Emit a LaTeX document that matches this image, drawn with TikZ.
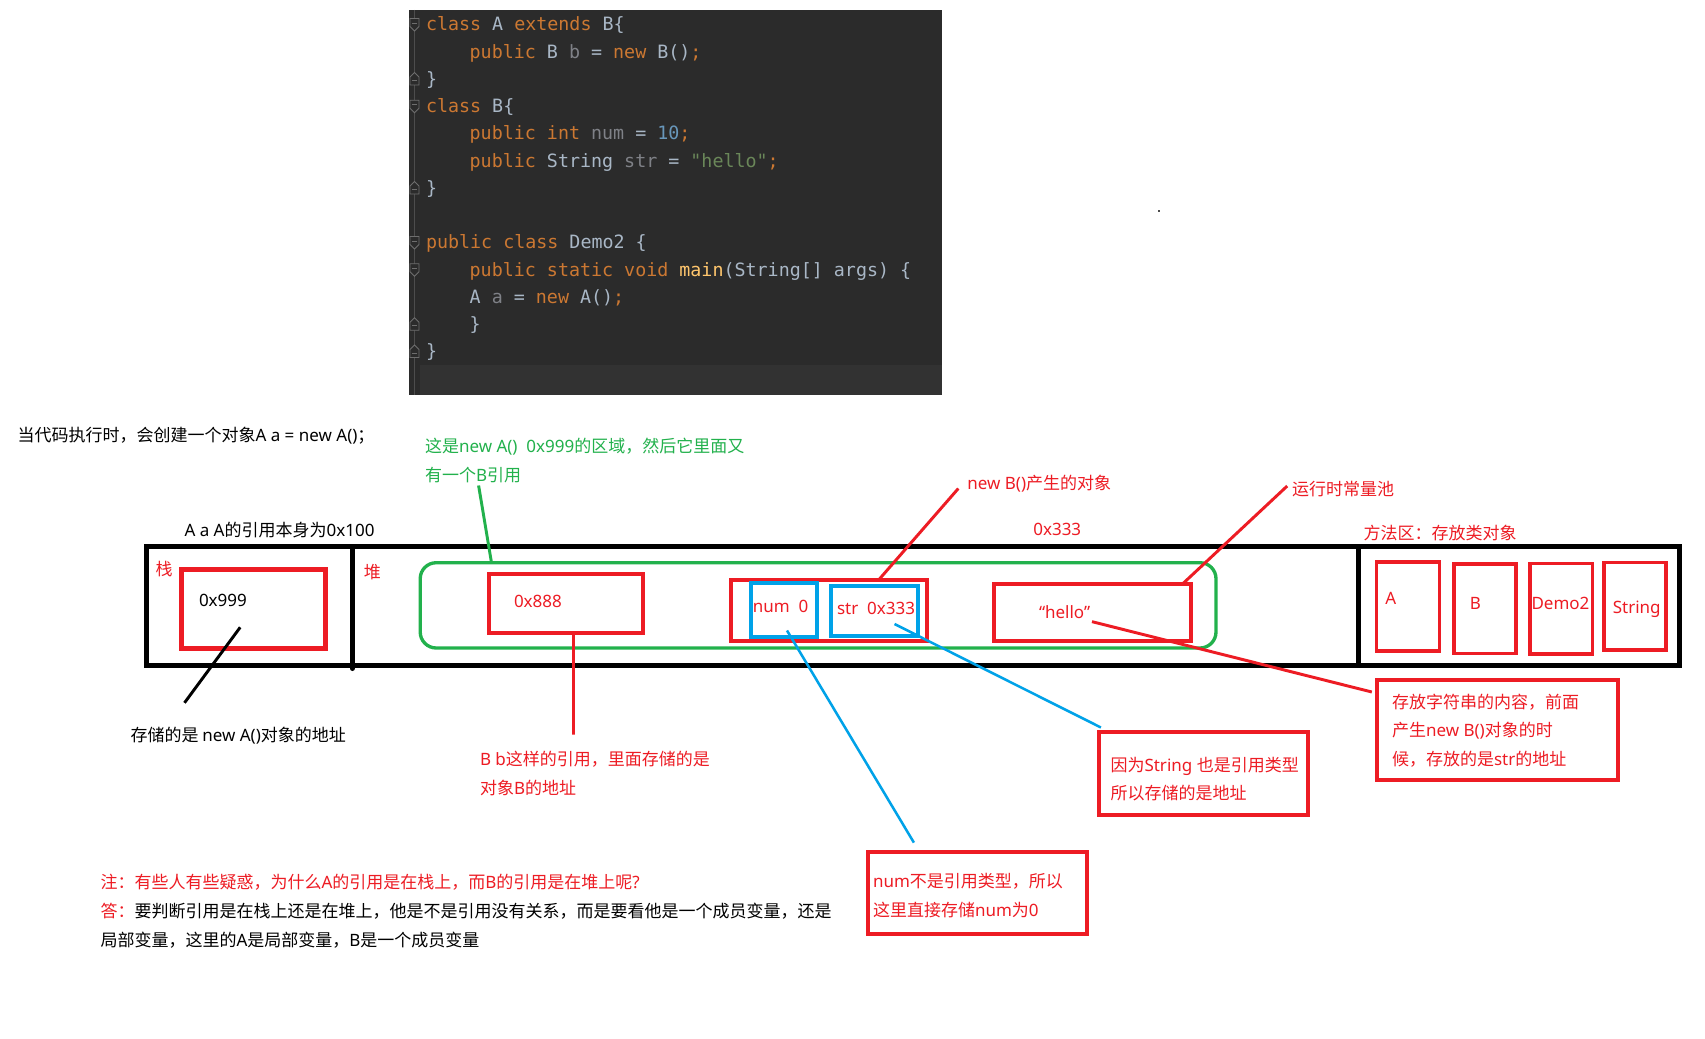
\documentclass[tikz,border=0pt]{standalone}
\usepackage{fontspec}
\setmainfont{Noto Sans CJK SC}
\newfontfamily\codefont{DejaVu Sans Mono}
\newfontfamily\latinfont{Noto Sans}
\usetikzlibrary{calc,fit}
\definecolor{pred}{HTML}{ED1C24}
\definecolor{pgreen}{HTML}{22B14C}
\definecolor{pblue}{HTML}{00A2E8}
\definecolor{codebg}{HTML}{2B2B2B}
\definecolor{codehl}{HTML}{323232}
\definecolor{ckw}{HTML}{CC7832}
\definecolor{cid}{HTML}{A9B7C6}
\definecolor{cfld}{HTML}{7F8187}
\definecolor{cnum}{HTML}{6897BB}
\definecolor{cstr}{HTML}{6A8759}
\definecolor{cfn}{HTML}{FFC66D}
\definecolor{cgut}{HTML}{4D4D4D}
\definecolor{cfold}{HTML}{6E6E6E}
\newcommand\jkw[1]{\textcolor{ckw}{#1}}
\newcommand\jid[1]{\textcolor{cid}{#1}}
\newcommand\jfd[1]{\textcolor{cfld}{#1}}
\newcommand\jnm[1]{\textcolor{cnum}{#1}}
\newcommand\jst[1]{\textcolor{cstr}{#1}}
\newcommand\jfn[1]{\textcolor{cfn}{#1}}
\newcommand\ltn[1]{{\latinfont #1}}
\begin{document}
\begin{tikzpicture}[x=0.75pt,y=-0.75pt,
  boxred/.style={draw=pred, line width=3pt, inner sep=0pt, outer sep=0pt},
  boxredthick/.style={draw=pred, line width=3.9pt, inner sep=0pt, outer sep=0pt},
  boxmeth/.style={draw=pred, line width=2.5pt, inner sep=0pt, outer sep=0pt},
  boxblue/.style={draw=pblue, line width=2.7pt, inner sep=0pt, outer sep=0pt},
  boxgreen/.style={draw=pgreen, line width=2.5pt, rounded corners=12pt, inner sep=0pt, outer sep=0pt},
  boxframe/.style={draw=black, line width=3.75pt, inner sep=0pt, outer sep=0pt},
  lnred/.style={draw=pred, line width=2.2pt},
  lnblue/.style={draw=pblue, line width=1.9pt},
  lngreen/.style={draw=pgreen, line width=2.2pt},
  lnblack/.style={draw=black, line width=2.2pt},
  lbl/.style={anchor=base west, inner sep=0pt, outer sep=0pt, font=\fontsize{12.75}{15}\selectfont},
  lblc/.style={anchor=base, inner sep=0pt, outer sep=0pt, font=\latinfont\fontsize{12.75}{15}\selectfont},
  codeln/.style={anchor=base west, inner sep=0pt, outer sep=0pt, text=cid, font=\codefont\fontsize{13.75}{16}\selectfont},
  fopen/.pic={\filldraw[draw=cfold, fill=codebg, line width=0.6pt] (-4.5,-6) -- (4.5,-6) -- (4.5,2) -- (0,6.5) -- (-4.5,2) -- cycle;
              \draw[cfold, line width=0.6pt] (-2.5,-1.5) -- (2.5,-1.5);},
  fclose/.pic={\filldraw[draw=cfold, fill=codebg, line width=0.6pt] (-4.5,6) -- (4.5,6) -- (4.5,-2) -- (0,-6.5) -- (-4.5,-2) -- cycle;
              \draw[cfold, line width=0.6pt] (-2.5,1.5) -- (2.5,1.5);}
]
\useasboundingbox (0,0) rectangle (1705,1038);
\fill[white] (0,0) rectangle (1705,1038);

% ---------- code panel ----------
\node[fill=codebg, inner sep=0pt, outer sep=0pt, fit={(409,10) (942,395)}] (codepanel) {};
\fill[codehl] (420,365) rectangle (942,395);
\draw[cgut, line width=0.75pt] (414.5,10) -- (414.5,395);
\pic at (414.5,24.5) {fopen};
\pic at (414.5,79) {fclose};
\pic at (414.5,106.25) {fopen};
\pic at (414.5,188) {fclose};
\pic at (414.5,242.5) {fopen};
\pic at (414.5,269.75) {fopen};
\pic at (414.5,324.25) {fclose};
\pic at (414.5,351.5) {fclose};

\node[codeln] (c0) at (426,30.9) {\jkw{class} \jid{A} \jkw{extends} \jid{B\{}};
\node[codeln] (c1) at (469.7,58.15) {\jkw{public} \jid{B} \jfd{b} \jid{=} \jkw{new} \jid{B()}\jkw{;}};
\node[codeln] (c2) at (426,85.4) {\jid{\}}};
\node[codeln] (c3) at (426,112.65) {\jkw{class} \jid{B\{}};
\node[codeln] (c4) at (469.7,139.9) {\jkw{public} \jkw{int} \jfd{num} \jid{=} \jnm{10}\jkw{;}};
\node[codeln] (c5) at (469.7,167.15) {\jkw{public} \jid{String} \jfd{str} \jid{=} \jst{"hello"}\jkw{;}};
\node[codeln] (c6) at (426,194.4) {\jid{\}}};
\node[codeln] (c8) at (426,248.9) {\jkw{public} \jkw{class} \jid{Demo2} \jid{\{}};
\node[codeln] (c9) at (469.7,276.15) {\jkw{public} \jkw{static} \jkw{void} \jfn{main}\jid{(String[]} \jid{args)} \jid{\{}};
\node[codeln] (c10) at (469.7,303.4) {\jid{A} \jfd{a} \jid{=} \jkw{new} \jid{A()}\jkw{;}};
\node[codeln] (c11) at (469.7,330.65) {\jid{\}}};
\node[codeln] (c12) at (426,357.9) {\jid{\}}};

% stray dot
\fill[black!70] (1158,210) rectangle (1160,212);

% ---------- memory frame ----------
\node[boxframe, fit={(146,546.5) (1679.5,665.3)}] (frame) {};
\draw[black, line width=3.75pt, line cap=round] ($(frame.north west)+(206.2,0)$) -- ($(frame.south west)+(206.2,3.2)$);
\draw[black, line width=3.75pt] ($(frame.north west)+(1212,0)$) -- ($(frame.south west)+(1212,0)$);

% boxes
\node[boxredthick, fit={(181.7,569.5) (325.5,648.2)}] (stackbox) {};
\node[boxgreen, fit={(420.2,562.7) (1216,648)}] (grect) {};
\node[boxred, fit={(488.5,573.5) (642.7,633)}] (b888) {};
\node[boxred, fit={(731,580) (926.8,641)}] (newB) {};
\node[boxblue, fit={(750.7,582.8) (816.7,637)}] (numB) {};
\node[boxblue, fit={(831,586) (918,636)}] (strB) {};
\node[boxred, fit={(994,583.5) (1191,640.8)}] (hello) {};
\node[boxmeth, fit={(1376.7,562) (1439.5,651)}] (mA) {};
\node[boxmeth, fit={(1454,564) (1516,653.3)}] (mB) {};
\node[boxmeth, fit={(1530,563.3) (1592.3,654)}] (mDemo) {};
\node[boxmeth, fit={(1604,562.3) (1666,650)}] (mString) {};
\node[boxred, fit={(1099.4,731.5) (1307.5,814.7)}] (sbox) {};
\node[boxred, fit={(1376.8,680) (1618.3,780.2)}] (hsbox) {};
\node[boxred, fit={(867.9,852.4) (1086.6,933.6)}] (nbox) {};

% ---------- labels ----------
\node[lbl] (tIntro) at (17.5,441.4) {当代码执行时，会创建一个对象\ltn{A a = new A()}；};
\node[lbl, text=pgreen] (tG1) at (425,452.4) {这是\ltn{new A()~~0x999}的区域，然后它里面又};
\node[lbl, text=pgreen] (tG2) at (425,481.6) {有一个\ltn{B}引用};
\node[lbl] (tAa) at (184.5,536.9) {\ltn{A a A}的引用本身为\ltn{0x100}};
\node[lbl, text=pred, anchor=base] (tZhan) at (164,575.4) {栈};
\node[lbl, text=pred, anchor=base] (tDui) at (372.4,578.2) {堆};
\node[lbl] (t999) at (199,606.9) {\ltn{0x999}};
\node[lbl] (tStore) at (130.5,741.4) {存储的是 \ltn{new A()}对象的地址};
\node[lbl, text=pred] (t888) at (514,607.9) {\ltn{0x888}};
\node[lbl, text=pred] (tBb1) at (480,765.9) {\ltn{B b}这样的引用，里面存储的是};
\node[lbl, text=pred] (tBb2) at (480,794.8) {对象\ltn{B}的地址};
\node[lbl, text=pred] (tNum) at (752.8,612.6) {\ltn{num~~0}};
\node[lbl, text=pred] (tStr) at (837,614.2) {\ltn{str~~0x333}};
\node[lbl, text=pred] (tNewB) at (967.3,489.9) {\ltn{new B()}产生的对象};
\node[lbl, text=pred] (t333) at (1033.3,535.9) {\ltn{0x333}};
\node[lbl, text=pred] (tHello) at (1039,618.9) {\ltn{“hello”}};
\node[lbl, text=pred] (tPool) at (1292,495.2) {运行时常量池};
\node[lbl, text=pred] (tMethod) at (1363.5,539.4) {方法区：存放类对象};
\node[lblc, text=pred] (tA) at (1390.7,604.7) {A};
\node[lblc, text=pred] (tB) at (1475.3,609.4) {B};
\node[lblc, text=pred] (tDemo) at (1560.5,609.7) {Demo2};
\node[lblc, text=pred] (tString) at (1636.7,613.4) {String};
\node[lbl, text=pred] (tS1) at (1110.5,771.2) {因为\ltn{String }也是引用类型};
\node[lbl, text=pred] (tS2) at (1110.5,799.4) {所以存储的是地址};
\node[lbl, text=pred] (tH1) at (1392,708) {存放字符串的内容，前面};
\node[lbl, text=pred] (tH2) at (1392,736.2) {产生\ltn{new B()}对象的时};
\node[lbl, text=pred] (tH3) at (1392,765.4) {候，存放的是\ltn{str}的地址};
\node[lbl, text=pred] (tN1) at (873,887.7) {\ltn{num}不是引用类型，所以};
\node[lbl, text=pred] (tN2) at (873,916.5) {这里直接存储\ltn{num}为\ltn{0}};
\node[lbl, text=pred] (tNote) at (100.5,888.7) {注：有些人有些疑惑，为什么\ltn{A}的引用是在栈上，而\ltn{B}的引用是在堆上呢\ltn{?}};
\node[lbl] (tAns1) at (100.5,917.9) {\textcolor{pred}{答：}要判断引用是在栈上还是在堆上，他是不是引用没有关系，而是要看他是一个成员变量，还是};
\node[lbl] (tAns2) at (100.5,946.2) {局部变量，这里的\ltn{A}是局部变量，\ltn{B}是一个成员变量};

% ---------- connectors ----------
\coordinate (blkEnd) at (184.5,702.8);
\coordinate (gEnd) at (478.6,485.5);
\coordinate (bbEnd) at (573.5,734.5);
\coordinate (nbEnd) at (958.3,488.5);
\coordinate (poolEnd) at (1287.2,486);
\draw[lnblack] ($(stackbox.south)+(-13.4,-20.9)$) -- (blkEnd);
\draw[lngreen] (gEnd) -- ($(grect.north west)+(71.3,0)$);
\draw[lnred] ($(b888.south)+(7.9,0)$) -- (bbEnd);
\draw[lnred] ($(newB.north)+(49.7,0)$) -- (nbEnd);
\draw[lnred] ($(hello.north east)+(-8,0)$) -- (poolEnd);
\draw[lnblue] ($(numB.south)+(3.3,-6.5)$) -- ($(nbox.north west)+(46,-9.8)$);
\draw[lnblue] ($(strB.south)+(20,-12)$) -- ($(sbox.north west)+(1.5,-4)$);
\draw[lnred] ($(hello.center)+(-0.5,9.5)$) -- ($(hsbox.north west)+(-5,12)$);
\end{tikzpicture}
\end{document}
